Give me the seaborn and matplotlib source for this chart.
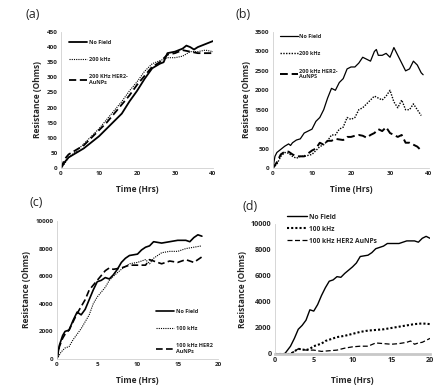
import numpy as np
import pandas as pd
import matplotlib
matplotlib.use("Agg")
import matplotlib.pyplot as plt
import seaborn as sns

sns.set_style("white")
plt.rcParams['font.family'] = ['Open Sans', 'DejaVu Sans']

# ---------------- Panel (a) ----------------
a_nf_t = [0, 1, 2, 4, 6, 8, 10, 12, 14, 16, 18, 20, 22, 24, 26, 27, 28, 30, 32, 33, 34, 35, 36, 37, 38, 39, 40]
a_nf_v = [0, 20, 35, 50, 65, 85, 105, 130, 155, 180, 220, 255, 295, 330, 345, 350, 380, 385, 395, 405, 400, 392, 400, 405, 410, 415, 420]
a_200_t = [0, 1, 2, 4, 6, 8, 10, 12, 14, 16, 18, 20, 22, 24, 26, 28, 30, 32, 34, 36, 38, 40]
a_200_v = [0, 15, 35, 55, 80, 105, 130, 160, 190, 220, 255, 285, 320, 345, 355, 365, 365, 370, 385, 385, 390, 385]
a_her_t = [0, 1, 2, 4, 6, 8, 10, 12, 14, 16, 18, 20, 22, 24, 26, 28, 30, 32, 34, 36, 38, 40]
a_her_v = [0, 30, 45, 60, 75, 100, 125, 150, 180, 210, 240, 275, 305, 335, 350, 375, 380, 390, 385, 380, 380, 380]
a_labels = ["No Field", "200 kHz", "200 KHz HER2-\nAuNPs"]

# ---------------- Panel (b) ----------------
b_nf_t = [0, 0.5, 1, 2, 3, 4, 4.5, 5, 6, 7, 8, 9, 10, 11, 12, 13, 14, 15, 16, 17, 18, 19, 20, 21, 22, 23, 24, 25, 26, 26.5, 27, 28, 29, 30, 31, 32, 33, 34, 35, 36, 37, 38, 38.5]
b_nf_v = [0, 300, 400, 480, 560, 620, 580, 650, 720, 750, 900, 950, 1000, 1200, 1300, 1500, 1800, 2050, 2000, 2200, 2300, 2550, 2600, 2600, 2700, 2850, 2800, 2750, 3000, 3050, 2900, 2900, 2950, 2850, 3100, 2900, 2700, 2500, 2550, 2750, 2650, 2450, 2400]
b_200_t = [0, 1, 2, 3, 4, 5, 6, 7, 8, 10, 12, 13, 14, 15, 16, 17, 18, 19, 20, 21, 22, 23, 24, 25, 26, 27, 28, 29, 30, 31, 32, 33, 34, 35, 36, 37, 38]
b_200_v = [0, 100, 300, 400, 380, 300, 250, 300, 300, 350, 550, 600, 700, 850, 850, 1000, 1050, 1300, 1250, 1300, 1500, 1550, 1650, 1750, 1850, 1800, 1750, 1850, 2000, 1700, 1550, 1750, 1500, 1500, 1650, 1500, 1350]
b_her_t = [0, 1, 2, 3, 4, 5, 6, 7, 8, 10, 11, 12, 13, 14, 15, 16, 18, 19, 20, 21, 22, 23, 24, 25, 26, 27, 28, 29, 30, 31, 32, 33, 34, 35, 36, 37, 38]
b_her_v = [0, 150, 350, 420, 420, 350, 300, 300, 300, 450, 500, 650, 600, 700, 700, 750, 720, 800, 800, 830, 850, 830, 780, 850, 900, 1000, 950, 1050, 900, 850, 800, 850, 650, 650, 600, 550, 450]
b_labels = ["No Field", "200 kHz", "200 kHz HER2-\nAuNPS"]

# ---------------- Panel (c) ----------------
c_nf_t = [0, 0.3, 0.7, 1, 1.5, 2, 2.5, 3, 3.5, 4, 4.5, 5, 5.5, 6, 6.5, 7, 7.5, 8, 8.5, 9, 10, 10.5, 11, 11.5, 12, 13, 14, 15, 16, 16.5, 17, 17.5, 18]
c_nf_v = [0, 1000, 1700, 2000, 2100, 2800, 3400, 3200, 3600, 4300, 5000, 5600, 5700, 5900, 5800, 6100, 6500, 7000, 7300, 7500, 7600, 7900, 8100, 8200, 8500, 8400, 8500, 8600, 8600, 8500, 8800, 9000, 8900]
c_100_t = [0, 0.5, 1, 1.5, 2, 3, 4, 4.5, 5, 6, 6.5, 7, 8, 9, 10, 10.5, 11, 11.5, 12, 13, 14, 15, 16, 17, 18]
c_100_v = [0, 500, 800, 900, 1400, 2200, 3200, 4000, 4500, 5200, 5700, 6000, 6500, 6900, 7000, 7100, 7200, 6900, 7300, 7700, 7800, 7800, 8000, 8100, 8200]
c_her_t = [0, 0.3, 0.7, 1, 1.5, 2, 2.5, 3, 3.5, 4, 5, 6, 6.5, 7, 8, 9, 10, 11, 11.5, 12, 13, 14, 15, 16, 17, 18]
c_her_v = [0, 900, 1500, 1800, 2100, 2700, 3300, 3800, 4300, 5000, 5700, 6400, 6600, 6500, 6600, 6800, 6800, 6800, 7200, 7100, 6900, 7100, 7000, 7200, 7000, 7400]
c_labels = ["No Field", "100 kHz", "100 kHz HER2\nAuNPs"]

# ---------------- Panel (d) ----------------
d_nf_t = [0, 1, 1.3, 2, 2.5, 3, 3.5, 4, 4.5, 5, 5.5, 6, 6.5, 7, 7.5, 8, 8.5, 9, 10, 10.5, 11, 12, 12.5, 13, 14, 14.5, 15, 16, 17, 18, 18.5, 19, 19.5, 20]
d_nf_v = [0, 0, 50, 600, 1200, 1900, 2200, 2600, 3400, 3300, 3800, 4500, 5100, 5600, 5700, 5950, 5900, 6200, 6700, 7000, 7500, 7600, 7800, 8100, 8300, 8500, 8500, 8500, 8700, 8700, 8600, 8900, 9050, 8900]
d_100_t = [0, 2, 2.5, 3, 4, 4.5, 5, 5.5, 6, 6.5, 7, 8, 9, 10, 11, 12, 13, 14, 15, 16, 17, 18, 19, 20]
d_100_v = [0, 0, 200, 400, 300, 400, 600, 700, 800, 1000, 1100, 1300, 1400, 1550, 1700, 1800, 1850, 1900, 2000, 2100, 2200, 2300, 2350, 2300]
d_her_t = [0, 2, 3, 4, 5, 6, 7, 8, 9, 10, 11, 12, 13, 14, 15, 16, 17, 17.5, 18, 18.5, 19, 20]
d_her_v = [0, 0, 400, 300, 300, 200, 250, 300, 450, 550, 600, 600, 850, 800, 750, 800, 900, 1000, 750, 850, 900, 1200]
d_labels = ["No Field", "100 kHz", "100 kHz HER2 AuNPs"]

W, H = 445, 386
fig = plt.figure(figsize=(W / 100, H / 100), dpi=100)

def rect(l, r, t, b):
    return [l / W, 1 - b / H, (r - l) / W, (b - t) / H]

ax_a = fig.add_axes(rect(61, 213, 32, 168))
ax_b = fig.add_axes(rect(273, 429, 32, 168))
ax_c = fig.add_axes(rect(57, 218, 221, 359))
ax_d = fig.add_axes(rect(275, 430, 224, 354))

def draw(ax, series, labels, lws, xlim, xticks, ylim, yticks, tsize=4.5, xpad=6):
    styles = ['-', (0, (1, 1)), (0, (4, 2))]
    for (t, v), lab, ls, lw in zip(series, labels, styles, lws):
        sns.lineplot(x=t, y=v, ax=ax, color='black', linestyle=ls, linewidth=lw, label=lab)
    ax.set_xlim(*xlim)
    ax.set_ylim(*ylim)
    ax.set_xticks(xticks)
    ax.set_yticks(yticks)
    ax.tick_params(labelsize=tsize, length=0, pad=2.5)
    for lbl in ax.get_xticklabels() + ax.get_yticklabels():
        lbl.set_fontweight('bold')
    ax.set_xlabel("Time (Hrs)", fontsize=6, fontweight='bold', labelpad=xpad)
    ax.set_ylabel("Resistance (Ohms)", fontsize=6, fontweight='bold', labelpad=3)
    for s in ['top', 'right']:
        ax.spines[s].set_visible(False)
    for s in ['left', 'bottom']:
        ax.spines[s].set_color('#d0d0d0')
        ax.spines[s].set_linewidth(0.6)

draw(ax_a, [(a_nf_t, a_nf_v), (a_200_t, a_200_v), (a_her_t, a_her_v)], a_labels,
     [1.3, 0.8, 1.3], (0, 40), [0, 10, 20, 30, 40], (0, 450), list(range(0, 451, 50)))
draw(ax_b, [(b_nf_t, b_nf_v), (b_200_t, b_200_v), (b_her_t, b_her_v)], b_labels,
     [0.9, 1.0, 1.4], (0, 40), [0, 10, 20, 30, 40], (0, 3500), list(range(0, 3501, 500)))
draw(ax_c, [(c_nf_t, c_nf_v), (c_100_t, c_100_v), (c_her_t, c_her_v)], c_labels,
     [1.2, 0.8, 1.2], (0, 20), [0, 5, 10, 15, 20], (0, 10000), list(range(0, 10001, 2000)))
draw(ax_d, [(d_nf_t, d_nf_v), (d_100_t, d_100_v), (d_her_t, d_her_v)], d_labels,
     [1.0, 1.5, 0.9], (0, 20), [0, 5, 10, 15, 20], (0, 10000), list(range(0, 10001, 2000)),
     tsize=5.2, xpad=8)
ax_d.spines['bottom'].set_color('#c8c8c8')
ax_d.spines['bottom'].set_linewidth(2)

def leg(ax, loc, anchor, fs, spacing, hl):
    l = ax.legend(loc=loc, bbox_to_anchor=anchor, frameon=False, fontsize=fs,
                  labelspacing=spacing, handlelength=hl, handletextpad=0.3,
                  borderaxespad=0)
    for t in l.get_texts():
        t.set_fontweight('bold')

leg(ax_a, 'upper left', (0.04, 0.96), 4.0, 2.2, 3.2)
leg(ax_b, 'upper left', (0.03, 1.0), 4.0, 2.2, 3.2)
leg(ax_c, 'lower right', (0.98, 0.02), 4.0, 2.2, 3.2)
leg(ax_d, 'upper left', (0.06, 1.1), 4.8, 0.75, 3.0)

fig.text(33 / W, 1 - 14 / H, "(a)", fontsize=9, ha='center', va='center')
fig.text(243 / W, 1 - 15 / H, "(b)", fontsize=9, ha='center', va='center')
fig.text(36 / W, 1 - 202 / H, "(c)", fontsize=9, ha='center', va='center')
fig.text(250 / W, 1 - 207 / H, "(d)", fontsize=9, ha='center', va='center')

fig.savefig("out.png", dpi=100)
